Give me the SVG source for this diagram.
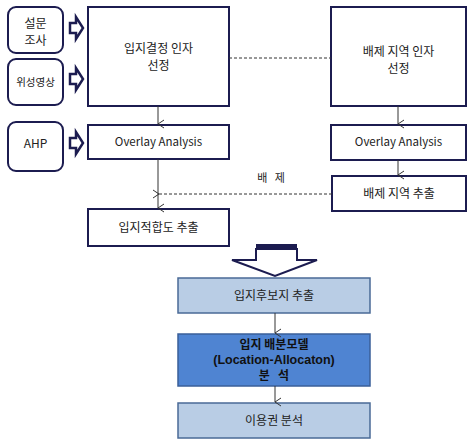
<svg xmlns="http://www.w3.org/2000/svg" width="469" height="439" viewBox="0 0 469 439">
<defs>
<marker id="ah" markerWidth="10" markerHeight="10" refX="5" refY="8" orient="auto" markerUnits="userSpaceOnUse" viewBox="0 0 10 10">
<path d="M1,2 L5,8 L9,2" fill="none" stroke="#333" stroke-width="1"/>
</marker>
<marker id="al" markerWidth="10" markerHeight="10" refX="2" refY="5" orient="auto" markerUnits="userSpaceOnUse" viewBox="0 0 10 10">
<path d="M8,1 L2,5 L8,9" fill="none" stroke="#333" stroke-width="1"/>
</marker>
</defs>
<style>
.box{fill:#fff;stroke:#1c1c50;stroke-width:2}
.rbox{fill:#fff;stroke:#1c1c50;stroke-width:2}
.lb{fill:#b9cde5;stroke:#4a6a96;stroke-width:1.5}
.mb{fill:#4f84d2;stroke:#3a5f99;stroke-width:1.5}
.harr{fill:#fff;stroke:#1c1c50;stroke-width:2.5;stroke-linejoin:miter}
text{font-family:"Noto Sans CJK KR","Noto Sans",sans-serif;font-size:12px;fill:#222;text-anchor:middle;white-space:pre}
.s{font-size:11.5px}
.b{font-weight:bold;fill:#111;font-size:12px}
.lat{font-family:"Liberation Sans",Arial,sans-serif;font-size:12.5px}
.ln{stroke:#333;stroke-width:1;fill:none}
.dl{stroke:#333;stroke-width:1;fill:none;stroke-dasharray:3,2}
</style>
<g id="n-survey"><rect class="rbox" x="8" y="7" width="55" height="46" rx="8"/><text x="35.5" y="28">설문</text><text x="35.5" y="45">조사</text></g>
<g id="n-satellite"><rect class="rbox" x="8" y="59" width="55" height="46" rx="8"/><text x="35.5" y="86" style="font-size:10.5px">위성영상</text></g>
<g id="n-ahp"><rect class="rbox" x="8" y="122" width="55" height="49" rx="8"/><text x="35.5" y="148">AHP</text></g>
<g id="a-survey"><path class="harr" d="M70,23 L76,23 L76,17 L83,28 L76,39 L76,33 L70,33 Z"/></g>
<g id="a-satellite"><path class="harr" d="M70,74 L76,74 L76,68 L83,79 L76,90 L76,84 L70,84 Z"/></g>
<g id="a-ahp"><path class="harr" d="M70,138 L76,138 L76,132 L83,143 L76,154 L76,148 L70,148 Z"/></g>
<g id="n-loc-factor"><rect class="box" x="88" y="7" width="141" height="99"/><text x="158.5" y="53">입지결정 인자</text><text x="158.5" y="70">선정</text></g>
<g id="n-excl-factor"><rect class="box" x="331" y="7" width="135" height="99"/><text x="398.5" y="56">배제 지역 인자</text><text x="398.5" y="73">선정</text></g>
<g id="n-overlay-l"><rect class="box" x="88" y="125" width="141" height="34"/><text class="s" x="158.5" y="146">Overlay Analysis</text></g>
<g id="n-overlay-r"><rect class="box" x="331" y="125" width="135" height="35"/><text class="s" x="398.5" y="146">Overlay Analysis</text></g>
<g id="n-excl-extract"><rect class="box" x="332" y="176" width="134" height="35"/><text x="399" y="198">배제 지역 추출</text></g>
<g id="n-suit"><rect class="box" x="88" y="209" width="141" height="37"/><text x="158.5" y="232">입지적합도 추출</text></g>
<g id="big-arrow"><rect x="256" y="244" width="41" height="6" fill="#1c1c50"/><path class="harr" style="stroke-width:2" d="M256,249 L297,249 L297,260 L317,260 L275,276 L232,260 L256,260 Z"/></g>
<g id="n-candidate"><rect class="lb" x="178" y="278" width="192" height="35"/><text x="274" y="300">입지후보지 추출</text></g>
<g id="n-la"><rect class="mb" x="178" y="334" width="192" height="52"/><text class="b" x="274" y="349">입지 배분모델</text><text class="b lat" x="274" y="364">(Location-Allocaton)</text><text class="b" x="274" y="380">분   석</text></g>
<g id="n-service"><rect class="lb" x="178" y="403" width="192" height="35"/><text x="274" y="425">이용권 분석</text></g>
<g id="connectors">
<line class="dl" x1="229" y1="58" x2="331" y2="58"/>
<line class="ln" x1="158" y1="106" x2="158" y2="124" marker-end="url(#ah)"/>
<line class="ln" x1="398" y1="106" x2="398" y2="124" marker-end="url(#ah)"/>
<line class="ln" x1="398" y1="160" x2="398" y2="175" marker-end="url(#ah)"/>
<line class="ln" x1="158" y1="159" x2="158" y2="208" marker-end="url(#ah)"/>
<line class="dl" x1="332" y1="194" x2="159" y2="194" marker-end="url(#al)"/>
<text x="271" y="182" style="font-size:11px">배   제</text>
<line class="ln" x1="275" y1="313" x2="275" y2="333" marker-end="url(#ah)"/>
<line class="ln" x1="275" y1="386" x2="275" y2="402" marker-end="url(#ah)"/>
</g>
</svg>
